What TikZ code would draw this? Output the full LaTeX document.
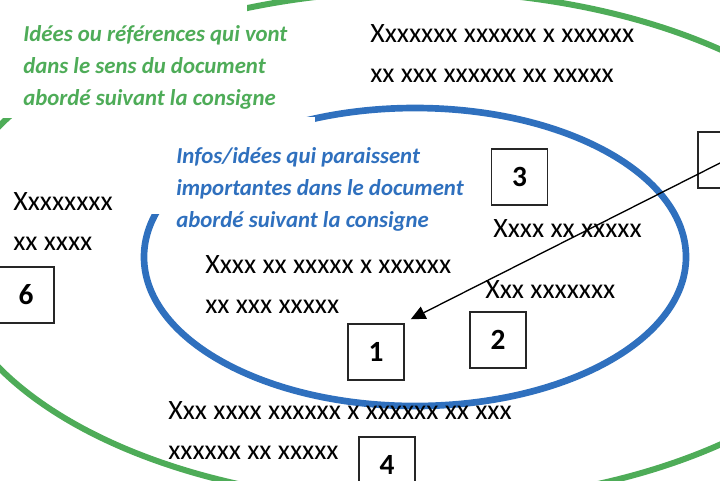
\documentclass[tikz,border=0pt]{standalone}
\usepackage{fontspec}
\setmainfont{Carlito}
\usetikzlibrary{arrows.meta}

\definecolor{grn}{RGB}{78,172,88}
\definecolor{blu}{RGB}{47,112,190}

\begin{document}
\begin{tikzpicture}[x=0.75pt,y=-0.75pt,
	numbox/.style={draw=black!85,line width=1.1pt,minimum size=42pt,inner sep=0pt,font=\fontsize{22}{22}\selectfont\bfseries},
	txt/.style={anchor=base west,inner sep=0pt,align=left,font=\fontsize{21}{29.5}\selectfont},
	note/.style={anchor=base west,inner sep=0pt,align=left,font=\fontsize{17.1}{24}\selectfont\bfseries\itshape}]

\useasboundingbox (0,0) rectangle (720,480);
\clip (0,0) rectangle (720,480);

% ellipses and the white boxes on them
\draw[grn,line width=4.5pt] (418,247) ellipse [x radius=475,y radius=256];
\fill[white] (-5,-5) rectangle (247,118);
\draw[blu,line width=5pt] (415,257) ellipse [x radius=271,y radius=149];
\fill[white] (130,117) rectangle (315,214);

% texts (placed at the baseline of their last line)
\node[note,text=grn]   (green)   at (23,105)   {Idées ou références qui vont\\dans le sens du document\\abordé suivant la consigne};
\node[note,text=blu]   (blue)    at (176,227)  {Infos/idées qui paraissent\\importantes dans le document\\abordé suivant la consigne};

\node[txt]   (t1)   at (370,82)    {Xxxxxxx xxxxxx x xxxxxx\\xx xxx xxxxxx xx xxxxx};
\node[txt]   (t6)   at (13,250)    {Xxxxxxxx\\xx xxxx};
\node[txt]   (t1b)  at (205,313)   {Xxxx xx xxxxx x xxxxxx\\xx xxx xxxxx};
\node[txt]   (t3)   at (493,237)   {Xxxx xx xxxxx};
\node[txt]   (t2)   at (485,298)   {Xxx xxxxxxx};
\node[txt]   (t4)   at (168,459)   {Xxx xxxx xxxxxx x xxxxxx xx xxx\\xxxxxx xx xxxxx};

\node[numbox]   (b1)   at (376,352)   {1};
\node[numbox]   (b2)   at (498,340)   {2};
\node[numbox]   (b3)   at (519.5,177) {3};
\node[numbox]   (b4)   at (387,465)   {4};
\node[numbox]   (b5)   at (726,160)   {};
\node[numbox]   (b6)   at (26,295)    {6};

\draw[-{Triangle[length=11pt,width=10pt]},line width=1pt] (b5.center) -- ([shift={(6,-4)}]b1.north east);
\end{tikzpicture}
\end{document}
